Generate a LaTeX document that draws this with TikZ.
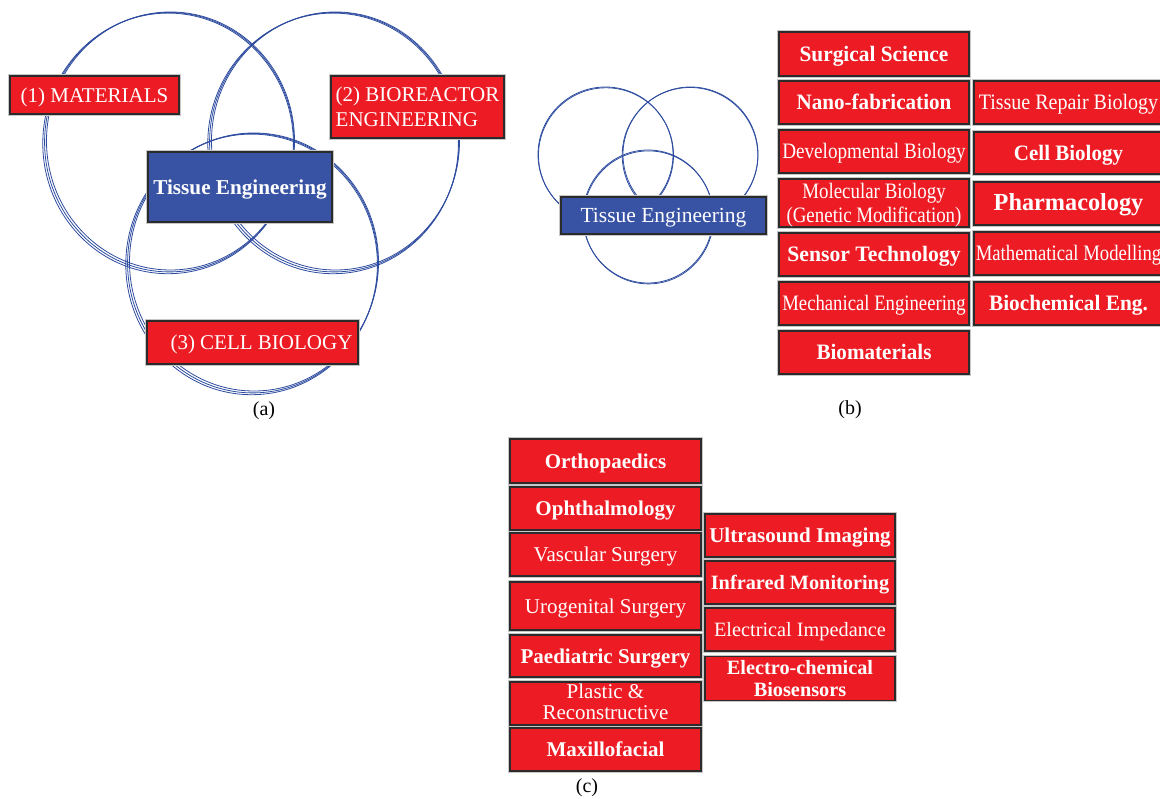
\documentclass[tikz,border=0pt]{standalone}
\usepackage{fontspec}
\setmainfont{Liberation Serif}
\usepackage{graphicx}
\definecolor{tered}{HTML}{ED1C24}
\definecolor{teblue}{HTML}{3953A4}
\definecolor{ringblue}{HTML}{2E4C9F}
\definecolor{edgegray}{HTML}{2B2B2B}
\newcommand\tefr{\fontsize{21}{25}\selectfont}
\newcommand\tefb{\fontsize{21}{25}\selectfont\bfseries}
\newcommand\tebr{\fontsize{22}{24}\selectfont}
\newcommand\tebb{\fontsize{22}{24}\selectfont\bfseries}
\newcommand\cx[2]{\scalebox{#1}[1]{#2}}
\newcommand\dn[2][2.5pt]{\raisebox{-#1}[\height][\depth]{#2}}
\tikzset{
  tboxm/.style={rectangle, fill=tered, draw=edgegray, line width=1.3pt, inner sep=0pt,
    text=white, align=center, preaction={draw=black!22, line width=3.2pt}},
  tbox/.style={tboxm, text height=16pt, text depth=1.4pt},
  bbox/.style={tbox, fill=teblue},
  ring/.style={draw=ringblue, line width=0.8pt},
  sublabel/.style={font=\fontsize{20}{24}\selectfont, inner sep=0pt}
}
\newcommand\tering[4]{%
  \draw[ring] (#1,#2) ellipse [x radius=#3, y radius=#4];
  \draw[ring] (#1-1.2,#2+1.2) ellipse [x radius=#3+0.7, y radius=#4+0.7];
  \draw[ring] (#1-2.4,#2+2.4) ellipse [x radius=#3+1.3, y radius=#4+1.3];
}
\begin{document}
\begin{tikzpicture}[x=1pt, y=-1pt]
\useasboundingbox (0,0) rectangle (1160,799);
% ---------- (a)
\tering{170.5}{141}{124}{129}
\tering{335.5}{141}{124}{129}
\tering{254}{262}{124.5}{129}
\node[tbox, minimum width=169pt, minimum height=38pt, font=\tefr] (mat) at (94.5,95) {(1) MATERIALS};
\node[tboxm, minimum width=173pt, minimum height=62pt, font=\tefr] (bio) at (417.5,107) {\dn[2.2pt]{\begin{tabular}{@{}l@{}}(2) BIOREACTOR\\ENGINEERING\end{tabular}}};
\node[bbox, minimum width=184pt, minimum height=70pt, font={\fontsize{21.2}{24}\selectfont\bfseries}] (tea) at (240,187) {Tissue Engineering};
\node[tbox, minimum width=211pt, minimum height=43pt, font=\tefr] (cell) at (252.5,342.5) {\hspace*{18pt}(3) CELL BIOLOGY};
\node[sublabel] (capa) at (264,411) {(a)};
% ---------- (b)
\draw[ring] (605.5,154.5) circle [radius=67.5];
\draw[ring] (606,155.3) circle [radius=67.5];
\draw[ring] (690.5,154.5) circle [radius=67.5];
\draw[ring] (690,155.3) circle [radius=67.8];
\draw[ring] (648,216.5) ellipse [x radius=65, y radius=66.5];
\draw[ring] (648.5,217.4) ellipse [x radius=65, y radius=66.5];
\node[bbox, minimum width=205pt, minimum height=37pt, font={\fontsize{21.5}{24}\selectfont}] (teb) at (663.5,215.5) {Tissue Engineering};
% column 1
\node[tbox, minimum width=190pt, minimum height=44pt, font=\tebb] (ss) at (874,54) {\cx{0.97}{Surgical Science}};
\node[tbox, minimum width=190pt, minimum height=43pt, font=\tebb] (nf) at (874,102.5) {\cx{0.96}{Nano-fabrication}};
\node[tbox, minimum width=190pt, minimum height=43pt, font=\tebr] (db) at (874,151.5) {\cx{0.87}{Developmental Biology}};
\node[tboxm, minimum width=190pt, minimum height=48pt, font=\tebr] (mb) at (874,203) {\dn[2.7pt]{\begin{tabular}{@{}c@{}}\cx{0.86}{Molecular Biology}\\\cx{0.86}{(Genetic Modification)}\end{tabular}}};
\node[tbox, minimum width=190pt, minimum height=43pt, font=\tebb] (st) at (874,254.5) {\cx{0.985}{Sensor Technology}};
\node[tbox, minimum width=190pt, minimum height=43pt, font=\tebr] (me) at (874,303.5) {\cx{0.85}{Mechanical Engineering}};
\node[tbox, minimum width=190pt, minimum height=43pt, font=\tebb] (bm) at (874,352.5) {\cx{0.96}{Biomaterials}};
% column 2
\node[tbox, minimum width=189pt, minimum height=43pt, font=\tebr] (tr) at (1068.5,102.5) {\cx{0.91}{Tissue Repair Biology}};
\node[tbox, minimum width=189pt, minimum height=42pt, font=\tebb] (cb) at (1068.5,153) {\cx{0.955}{Cell Biology}};
\node[tbox, minimum width=189pt, minimum height=43pt, font={\fontsize{24.5}{26}\selectfont\bfseries}] (ph) at (1068.5,203.5) {\cx{0.99}{Pharmacology}};
\node[tbox, minimum width=189pt, minimum height=43pt, font=\tebr] (mm) at (1068.5,253.5) {\cx{0.85}{Mathematical Modelling}};
\node[tbox, minimum width=189pt, minimum height=43pt, font=\tebb] (be) at (1068.5,303.5) {\cx{0.97}{Biochemical Eng.}};
\node[sublabel] (capb) at (850,410) {(b)};
% ---------- (c)
\node[tbox, minimum width=191pt, minimum height=44pt, font=\tefb] (or) at (605.5,461) {Orthopaedics};
\node[tbox, minimum width=191pt, minimum height=43pt, font=\tefb] (op) at (605.5,508.5) {Ophthalmology};
\node[tbox, minimum width=191pt, minimum height=43pt, font=\tefr] (vs) at (605.5,554.5) {Vascular Surgery};
\node[tbox, minimum width=191pt, minimum height=48pt, font=\tefr] (ug) at (605.5,606) {Urogenital Surgery};
\node[tbox, minimum width=191pt, minimum height=42pt, font=\tefb] (ps) at (605.5,656) {Paediatric Surgery};
\node[tboxm, minimum width=191pt, minimum height=43pt, font={\fontsize{21}{21}\selectfont}] (pr) at (605.5,703.5) {\dn[1pt]{\begin{tabular}{@{}c@{}}Plastic \&\\Reconstructive\end{tabular}}};
\node[tbox, minimum width=191pt, minimum height=43pt, font=\tefb] (mf) at (605.5,749.5) {Maxillofacial};
\node[tbox, minimum width=190pt, minimum height=43pt, font={\fontsize{21}{22}\selectfont\bfseries}] (us) at (800,535.5) {Ultrasound Imaging};
\node[tbox, minimum width=190pt, minimum height=43pt, font={\fontsize{20.3}{22}\selectfont\bfseries}] (ir) at (800,582.5) {Infrared Monitoring};
\node[tbox, minimum width=190pt, minimum height=43pt, font={\fontsize{20.3}{22}\selectfont}] (ei) at (800,629.5) {Electrical Impedance};
\node[tboxm, minimum width=190pt, minimum height=43pt, font={\fontsize{20.3}{22}\selectfont\bfseries}] (ec) at (800,678.5) {\dn[3pt]{\begin{tabular}{@{}c@{}}Electro-chemical\\Biosensors\end{tabular}}};
\node[sublabel] (capc) at (587,788) {(c)};
\end{tikzpicture}
\end{document}
